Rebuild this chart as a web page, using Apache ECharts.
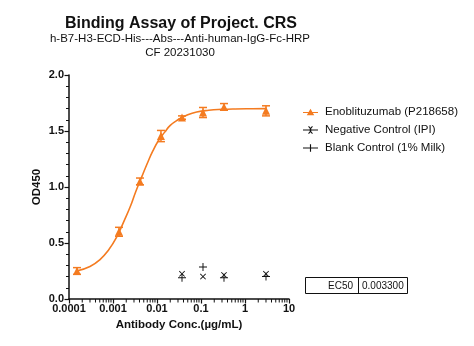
<!DOCTYPE html>
<html><head><meta charset="utf-8">
<script src="https://cdn.jsdelivr.net/npm/echarts@6/dist/echarts.min.js"></script>
<style>html,body{margin:0;padding:0;background:#fff}#c{width:474px;height:346px}</style>
</head><body><div id="c"></div>
<script>
// ---- data ----
const concPoints = [0.000152, 0.00137, 0.0041, 0.0123, 0.037, 0.111, 0.333, 3];
const odMean    = [0.25, 0.60, 1.05, 1.455, 1.62, 1.665, 1.715, 1.68];
const odErr     = [0.03, 0.04, 0.03, 0.05, 0.015, 0.045, 0.03, 0.045];
const curveConc = [0.00015, 0.0003, 0.0005, 0.0008, 0.0012, 0.0018, 0.0025, 0.0033, 0.0045, 0.006, 0.008, 0.011, 0.015, 0.02, 0.03, 0.05, 0.08, 0.15, 0.3, 0.6, 1.5, 3];
const curveOD   = [0.25, 0.29, 0.35, 0.44, 0.55, 0.70, 0.83, 0.96, 1.09, 1.21, 1.32, 1.42, 1.49, 1.55, 1.60, 1.645, 1.67, 1.685, 1.693, 1.697, 1.699, 1.70];
const ctrlConc  = [0.037, 0.111, 0.333, 3];
const negOD     = [0.225, 0.20, 0.215, 0.225];
const blankOD   = [0.19, 0.285, 0.19, 0.20];
const yTicks    = ['0.0','0.5','1.0','1.5','2.0'];
const xTickLabels = ['0.0001','0.001','0.01','0.1','1','10'];
const xMinorTicks = [0.0002,0.0003,0.0004,0.0005,0.0006,0.0007,0.0008,0.0009,
                     0.002,0.003,0.004,0.005,0.006,0.007,0.008,0.009,
                     0.02,0.03,0.04,0.05,0.06,0.07,0.08,0.09,
                     0.2,0.3,0.4,0.5,0.6,0.7,0.8,0.9,
                     2,3,4,5,6,7,8,9];
const ec50Label = 'EC50';
const ec50Value = '0.003300';
const seriesNames = ['Enoblituzumab (P218658)', 'Negative Control (IPI)', 'Blank Control (1% Milk)'];

const ORANGE = '#F47B20';
const FONT = 'Liberation Sans, Arial, sans-serif';
const X_PATH = 'path://M0,1L1,0L5,4L9,0L10,1L6,5L10,9L9,10L5,6L1,10L0,9L4,5Z';
const PLUS_PATH = 'path://M4.4,0H5.6V4.4H10V5.6H5.6V10H4.4V5.6H0V4.4H4.4Z';

const chart = echarts.init(document.getElementById('c'), null, {renderer: 'canvas'});
const option = {
  animation: false,
  backgroundColor: '#fff',
  textStyle: {fontFamily: FONT},
  title: [
    {text: 'Binding Assay of Project. CRS', left: 176, top: 11, textAlign: 'center',
     textStyle: {fontFamily: FONT, fontSize: 16, fontWeight: 'bold', color: '#111'}},
    {text: 'h-B7-H3-ECD-His---Abs---Anti-human-IgG-Fc-HRP\nCF 20231030', left: 175, top: 27, textAlign: 'center',
     textStyle: {fontFamily: FONT, fontSize: 11.5, fontWeight: 'normal', color: '#111', lineHeight: 14}}
  ],
  grid: {left: 69, right: 185, top: 75, bottom: 47, containLabel: false},
  legend: {
    orient: 'vertical', left: 298, top: 101, itemGap: 6, itemWidth: 15, itemHeight: 10,
    textStyle: {fontFamily: FONT, fontSize: 11.5, color: '#111', padding: [0,0,0,2]},
    data: [
      {name: seriesNames[0], icon: 'path://M0,4.5H16V5.5H0Z M8,1L12,8H4Z', itemStyle: {color: ORANGE, opacity: 1}},
      {name: seriesNames[1], icon: 'path://M0,4.5H16V5.5H0Z M5.5,1.5L6.3,0.8L8,2.6L9.7,0.8L10.5,1.5L8.8,3.3L8.8,6.7L10.5,8.5L9.7,9.2L8,7.4L6.3,9.2L5.5,8.5L7.2,6.7L7.2,3.3Z', itemStyle: {color: '#111', opacity: 1}},
      {name: seriesNames[2], icon: 'path://M0,4.5H16V5.5H0Z M7.4,1H8.6V9H7.4Z', itemStyle: {color: '#111', opacity: 1}}
    ]
  },
  xAxis: {
    type: 'log', logBase: 10, min: 0.0001, max: 10, position: 'bottom',
    name: 'Antibody Conc.(µg/mL)', nameLocation: 'middle', nameGap: 20,
    nameTextStyle: {fontFamily: FONT, fontSize: 11.5, fontWeight: 'bold', color: '#111'},
    axisLine: {lineStyle: {color: '#111', width: 1.5}},
    axisTick: {length: 4.5, lineStyle: {color: '#111', width: 1.2}},
    minorTick: {show: false},
    splitLine: {show: false},
    axisLabel: {fontFamily: FONT, fontSize: 11, fontWeight: 'bold', color: '#111', margin: 4,
      formatter: v => xTickLabels[Math.round(Math.log10(v)) + 4] || ''}
  },
  yAxis: {
    type: 'value', min: 0, max: 2, interval: 0.5,
    name: 'OD450', nameLocation: 'middle', nameGap: 26,
    nameTextStyle: {fontFamily: FONT, fontSize: 11.5, fontWeight: 'bold', color: '#111'},
    axisLine: {show: true, lineStyle: {color: '#111', width: 1.5}},
    axisTick: {show: true, length: 4.5, lineStyle: {color: '#111', width: 1.2}},
    minorTick: {show: true, splitNumber: 5, length: 3, lineStyle: {color: '#111', width: 1}},
    splitLine: {show: false},
    axisLabel: {fontFamily: FONT, fontSize: 11, fontWeight: 'bold', color: '#111', margin: 5,
      formatter: (v) => yTicks[Math.round(v / 0.5)]}
  },
  series: [
    {name: seriesNames[0], type: 'scatter', symbol: 'triangle', symbolSize: 8,
     itemStyle: {color: ORANGE, opacity: 1}, z: 5,
     data: concPoints.map((c, i) => [c, odMean[i]])},
    {name: 'fit', type: 'line', smooth: true, symbol: 'none', showSymbol: false,
     lineStyle: {color: ORANGE, width: 1.6}, z: 3,
     data: curveConc.map((c, i) => [c, curveOD[i]])},
    {name: 'err', type: 'custom', z: 4,
     renderItem: (params, api) => {
       const x = api.value(0), lo = api.value(1), hi = api.value(2);
       const p1 = api.coord([x, lo]), p2 = api.coord([x, hi]);
       const w = 4, st = {stroke: ORANGE, lineWidth: 1.5};
       return {type: 'group', children: [
         {type: 'line', shape: {x1: p1[0], y1: p1[1], x2: p2[0], y2: p2[1]}, style: st},
         {type: 'line', shape: {x1: p1[0]-w, y1: p1[1], x2: p1[0]+w, y2: p1[1]}, style: st},
         {type: 'line', shape: {x1: p2[0]-w, y1: p2[1], x2: p2[0]+w, y2: p2[1]}, style: st}
       ]};
     },
     data: concPoints.map((c, i) => [c, odMean[i] - odErr[i], odMean[i] + odErr[i]])},
    {name: seriesNames[1], type: 'scatter', symbol: X_PATH, symbolSize: 6,
     itemStyle: {color: '#111', opacity: 1}, z: 6,
     data: ctrlConc.map((c, i) => [c, negOD[i]])},
    {name: seriesNames[2], type: 'scatter', symbol: PLUS_PATH, symbolSize: 8,
     itemStyle: {color: '#111', opacity: 1}, z: 6,
     data: ctrlConc.map((c, i) => [c, blankOD[i]])}
  ]
};
chart.setOption(option);

// table + minor log ticks on the x axis, placed through the axis scale
const y0 = chart.convertToPixel({yAxisIndex: 0}, 0);
const gfx = [
  {type: 'rect', shape: {x: 305.5, y: 277.5, width: 102, height: 16}, style: {fill: '#fff', stroke: '#111', lineWidth: 1}},
  {type: 'line', shape: {x1: 358.5, y1: 277.5, x2: 358.5, y2: 293.5}, style: {stroke: '#111', lineWidth: 1}},
  {type: 'text', x: 353, y: 286, style: {text: ec50Label, fill: '#111', font: '10px ' + FONT, align: 'right', verticalAlign: 'middle'}},
  {type: 'text', x: 362, y: 286, style: {text: ec50Value, fill: '#111', font: '10px ' + FONT, align: 'left', verticalAlign: 'middle'}}
];
xMinorTicks.forEach(v => {
  const px = chart.convertToPixel({xAxisIndex: 0}, v);
  gfx.push({type: 'line', z: 100, shape: {x1: px, y1: y0, x2: px, y2: y0 + 3.5}, style: {stroke: '#111', lineWidth: 1}});
});
chart.setOption({graphic: {elements: gfx}});
</script></body></html>
